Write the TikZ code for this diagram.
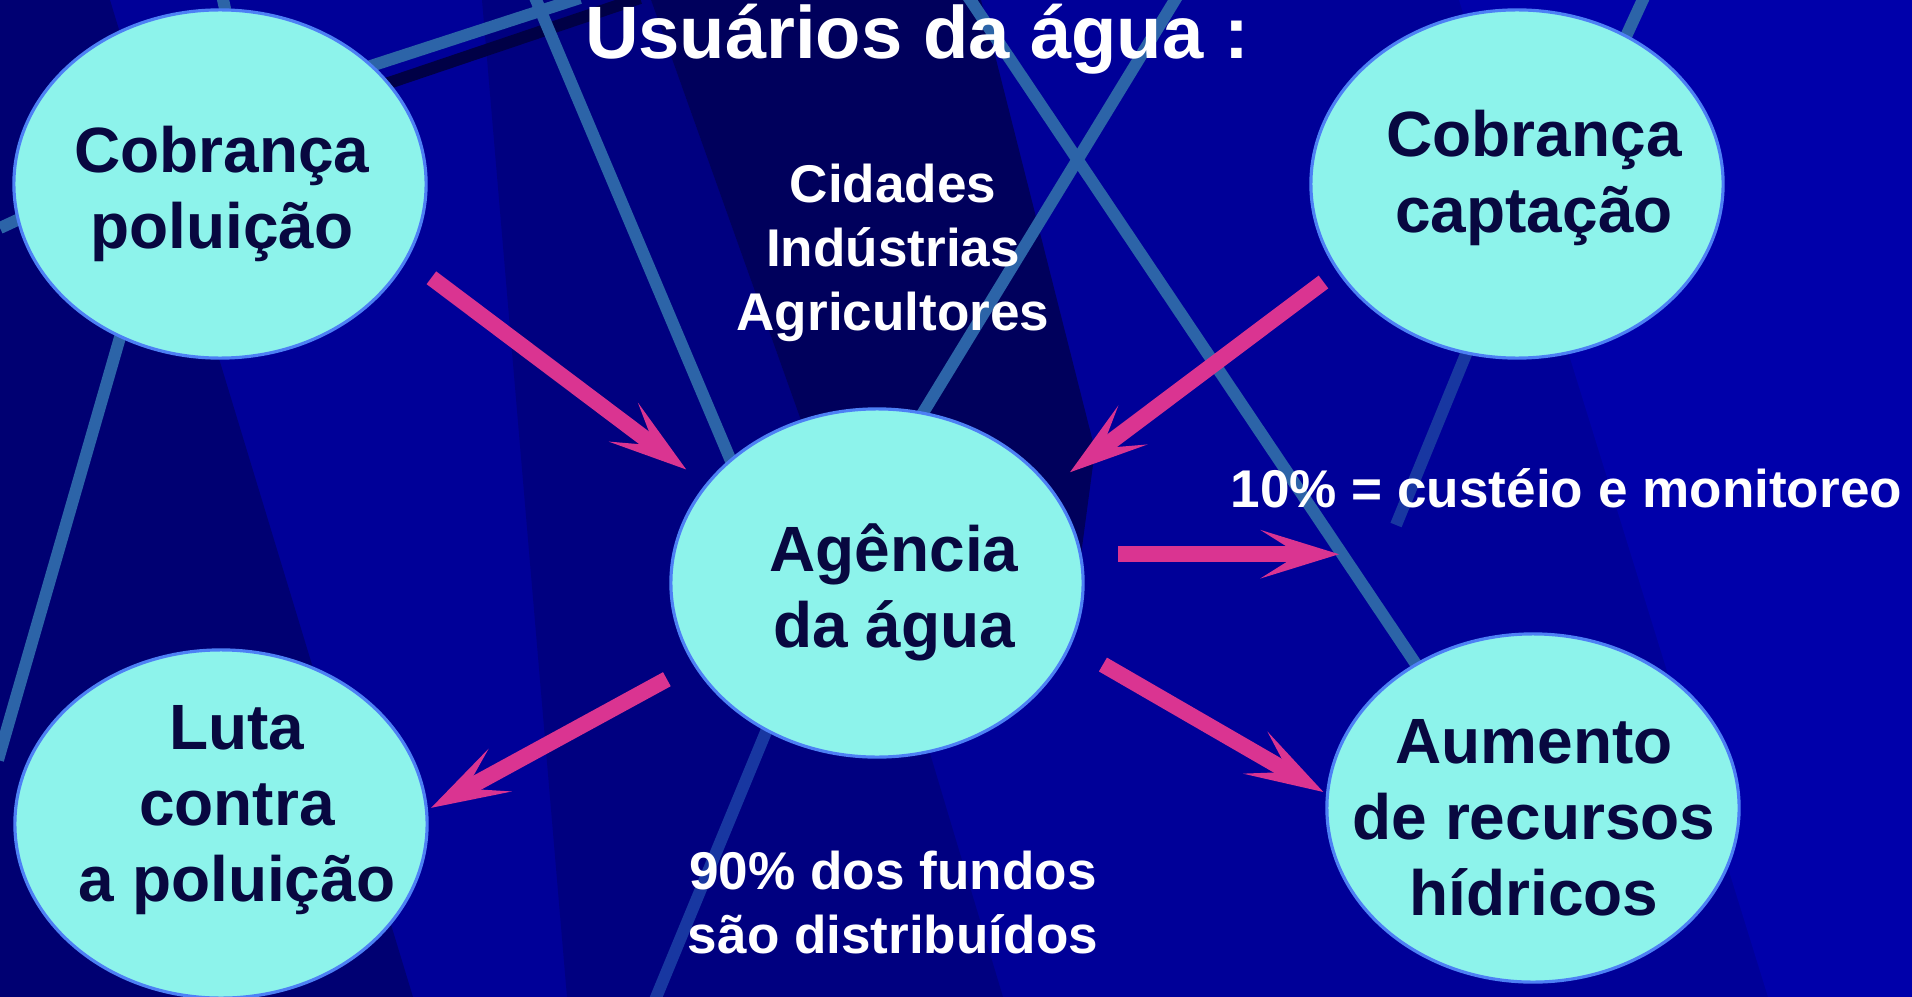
\documentclass[tikz,border=0pt]{standalone}
\usepackage{fontspec}
\setmainfont{Liberation Sans}
\usetikzlibrary{shapes.geometric, arrows.meta, positioning}
\definecolor{fundo}{RGB}{0,0,152}
\definecolor{fundoescuro}{RGB}{0,0,114}
\definecolor{fundomedio}{RGB}{0,0,128}
\definecolor{fundonoite}{RGB}{0,0,92}
\definecolor{fundoclaro}{RGB}{0,0,170}
\definecolor{aco}{RGB}{44,100,168}
\definecolor{sombra}{RGB}{0,0,70}
\definecolor{celeste}{RGB}{141,243,235}
\definecolor{borda}{RGB}{77,128,245}
\definecolor{tinta}{RGB}{8,8,64}
\definecolor{rosa}{RGB}{218,52,145}
\tikzset{
    >={Stealth[length=7.8mm, width=4.8mm, inset=3.8mm]},
    elipse/.style={ellipse, draw=borda, line width=0.9pt, fill=celeste,
        minimum width=4.12cm, minimum height=3.48cm, inner sep=0pt},
    rotulo/.style={align=center, text=tinta, font=\bfseries\fontsize{18.2}{21.6}\selectfont},
    legenda/.style={align=center, text=white, font=\bfseries\fontsize{15.1}{18.2}\selectfont},
    seta/.style={->, draw=rosa, line width=1.6mm},
    linha/.style={draw=aco, line width=1.2mm},
}

\begin{document}
\begin{tikzpicture}[x=0.01cm, y=-0.01cm]
                % fundo
                \useasboundingbox (0,0) rectangle (1912,997);
                \clip (0,0) rectangle (1912,997);
                \fill[fundo] (0,0) rectangle (1912,997);
                \fill[fundoescuro] (0,0) -- (110,0) -- (413,997) -- (0,997) -- cycle;
                \fill[fundomedio] (482,0) -- (651,0) -- (808,440) -- (914,700) -- (1003,997) -- (567,997) -- cycle;
                \fill[fundonoite] (651,0) -- (981,0) -- (1095,450) -- (1075,600) -- (808,440) -- cycle;
                \fill[fundoclaro] (1459,0) -- (1912,0) -- (1912,997) -- (1768,997) -- cycle;
                \draw[sombra, line width=1.2mm] (300,113) -- (640,-2);
                \draw[linha] (0,228) -- (300,89) -- (580,-2);
                \draw[linha] (222,-5) -- (232,40);
                \draw[linha] (534,-5) -- (739,480);
                \draw[linha] (965,-8) -- (1440,700);
                \draw[linha] (1178,-5) -- (882,480);
                \draw[linha] (125,320) -- (-2,760);
                \draw[linha] (1645,-5) -- (1560,180);
                \draw[linha, draw=aco!55!fundo] (1480,320) -- (1396,525);
                \draw[linha, draw=aco!55!fundo] (775,710) -- (655,1000);

                % elipses
                \node[elipse] (pol) at (220,184) {};
                \node[elipse] (cap) at (1517,184) {};
                \node[elipse] (ag) at (877,583) {};
                \node[elipse] (luta) at (221,824) {};
                \node[elipse] (aum) at (1533,808) {};

                \node[rotulo] (t-pol) at ([shift={(2,10)}]pol) {Cobrança\\poluição};
                \node[rotulo] (t-cap) at ([shift={(17,-6)}]cap) {Cobrança\\captação};
                \node[rotulo] (t-ag) at ([shift={(17,9)}]ag) {Agência\\da água};
                \node[rotulo] (t-luta) at ([shift={(16,-14)}]luta) {Luta\\contra\\a poluição};
                \node[rotulo] (t-aum) at ([shift={(1,10)}]aum) {Aumento\\de recursos\\hídricos};

                % textos
                \node[anchor=base, text=white, font=\bfseries\fontsize{21.1}{25}\selectfont] (titulo) at (917,59) {Usuários da água :};
                \node[legenda] (usuarios) at (893,253) {Cidades\\Indústrias\\Agricultores};
                \node[legenda] (fundos) at (893,903) {90\% dos fundos\\são distribuídos};
                \node[legenda, anchor=base west, inner sep=0pt] (custeio) at (1230,507) {10\% = custéio e monitoreo};
                \coordinate (fim) at (1339,551);

                % setas
                \draw[seta, shorten <=0.30cm, shorten >=0.24cm] (pol.-22.5) -- (ag.150.8);
                \draw[seta, shorten <=0.17cm, shorten >=0.24cm] (cap.-154.2) -- (ag.29.2);
                \draw[seta, shorten <=0.30cm, shorten >=0.035cm] (ag.204.7) -- (luta.4.6);
                \draw[seta, shorten <=0.365cm] (ag.8.9) -- (ag.8.9 -| fim);
                \draw[seta, shorten <=0.37cm, shorten >=0.03cm] (ag.-18.3) -- (aum.176);
            \end{tikzpicture}
\end{document}
